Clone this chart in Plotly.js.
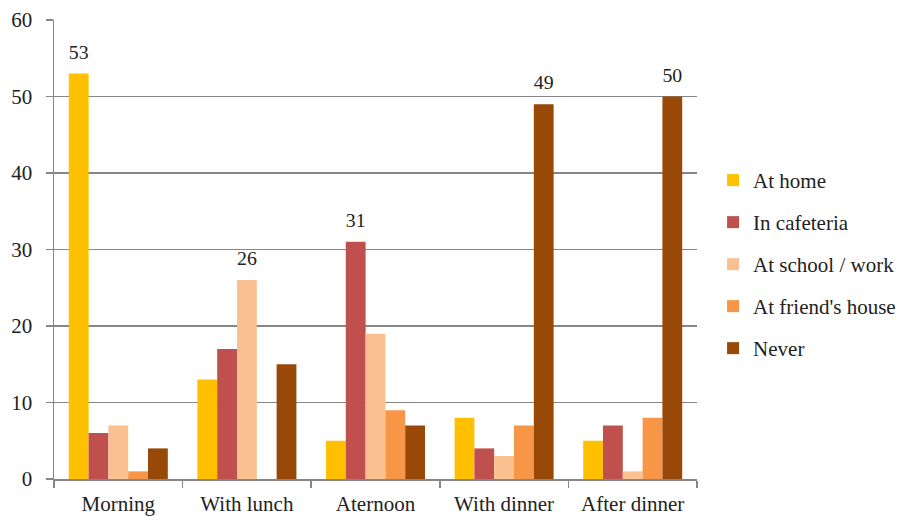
<!DOCTYPE html>
<html>
<head>
<meta charset="utf-8">
<script src="https://cdn.plot.ly/plotly-3.0.1.min.js"></script>
<style>html,body{margin:0;padding:0;background:#fff;}#chart{width:901px;height:516px;}</style>
</head>
<body>
<div id="chart"></div>
<script>
const categories = ["Morning", "With lunch", "Aternoon", "With dinner", "After dinner"];
const atHome = [53, 13, 5, 8, 5];
const inCafeteria = [6, 17, 31, 4, 7];
const atSchoolWork = [7, 26, 19, 3, 1];
const atFriendsHouse = [1, 0, 9, 7, 8];
const never = [4, 15, 7, 49, 50];
const seriesNames = ["At home", "In cafeteria", "At school / work", "At friend's house", "Never"];
const seriesColors = ["#FFC000", "#C0504D", "#FAC090", "#F79646", "#984807"];
const seriesValues = [atHome, inCafeteria, atSchoolWork, atFriendsHouse, never];

// label only the largest bar in each category
const maxPerCat = categories.map((c, i) => Math.max(...seriesValues.map(s => s[i])));

const FONT = "Liberation Serif";
const traces = seriesValues.map((vals, k) => ({
  type: "bar",
  name: seriesNames[k],
  x: categories,
  y: vals,
  legendgroup: "g" + k,
  marker: {color: seriesColors[k], line: {width: 0}},
  text: vals.map((v, i) => v === maxPerCat[i] ? "<span style='font-size:21px'>" + v + "</span><br> " : ""),
  textposition: "outside",
  cliponaxis: false,
  textfont: {family: FONT, size: 8, color: "#222"},
  hoverinfo: "none"
}));

const layout = {
  width: 901, height: 516,
  margin: {l: 54, r: 204, t: 20, b: 37, autoexpand: false},
  paper_bgcolor: "#fff", plot_bgcolor: "#fff",
  barmode: "group",
  bargap: 0.23,
  bargroupgap: 0,
  font: {family: FONT, size: 21, color: "#222"},
  showlegend: true,
  legend: {x: 1.025, y: 0.695, xanchor: "left", yanchor: "top",
           font: {family: FONT, size: 21, color: "#222"},
           tracegroupgap: 11.7, bgcolor: "rgba(0,0,0,0)"},
  xaxis: {
    type: "category",
    showline: true, linecolor: "#868686", linewidth: 1.5,
    ticks: "outside", tickson: "boundaries", ticklen: 7, tickcolor: "#868686", tickwidth: 1.5,
    tickfont: {family: FONT, size: 21, color: "#222"},
    ticklabelstandoff: 5,
    showgrid: false, zeroline: false
  },
  yaxis: {
    range: [0, 60], dtick: 10,
    showline: true, linecolor: "#868686", linewidth: 1.5,
    ticks: "outside", ticklen: 7, tickcolor: "#868686", tickwidth: 1.5,
    gridcolor: "#868686", gridwidth: 1.2,
    zeroline: false,
    tickfont: {family: FONT, size: 21, color: "#222"},
    ticklabelstandoff: 9
  }
};

Plotly.newPlot("chart", traces, layout, {staticPlot: true, displayModeBar: false});
</script>
</body>
</html>
